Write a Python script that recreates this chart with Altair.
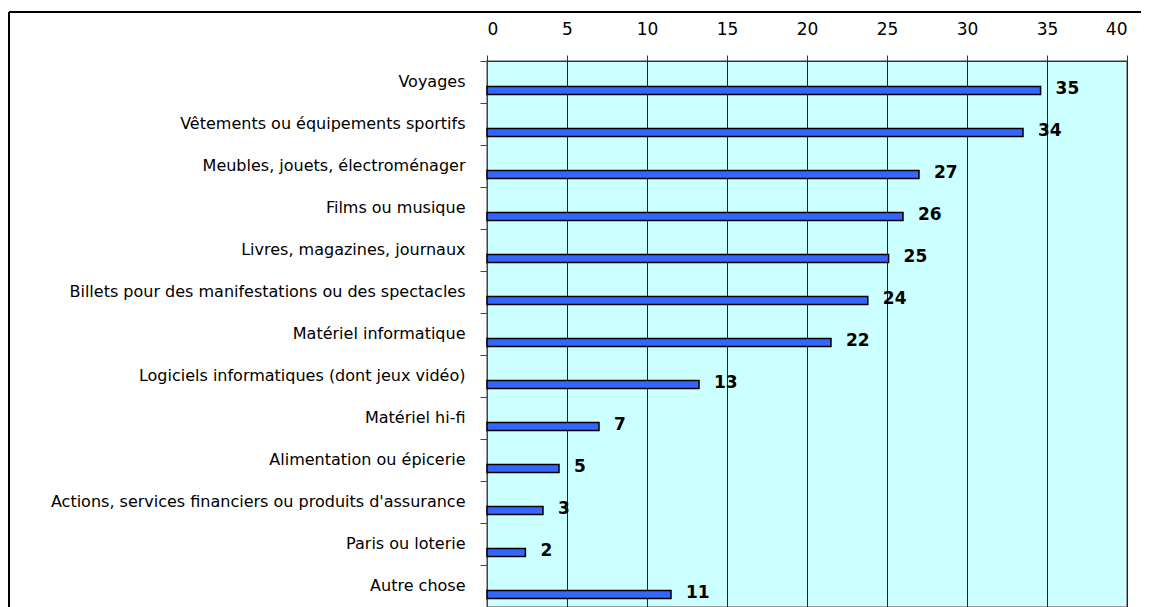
import altair as alt
import pandas as pd

categories = [
    "Voyages",
    "Vêtements ou équipements sportifs",
    "Meubles, jouets, électroménager",
    "Films ou musique",
    "Livres, magazines, journaux",
    "Billets pour des manifestations ou des spectacles",
    "Matériel informatique",
    "Logiciels informatiques (dont jeux vidéo)",
    "Matériel hi-fi",
    "Alimentation ou épicerie",
    "Actions, services financiers ou produits d'assurance",
    "Paris ou loterie",
    "Autre chose",
]
values = [34.6, 33.5, 27.0, 26.0, 25.1, 23.8, 21.5, 13.25, 7.0, 4.5, 3.5, 2.4, 11.5]
value_labels = ["35", "34", "27", "26", "25", "24", "22", "13", "7", "5", "3", "2", "11"]
x_ticks = [0, 5, 10, 15, 20, 25, 30, 35, 40]

df = pd.DataFrame({"cat": categories, "val": values, "lab": value_labels})

FONT = "DejaVu Sans"

y_enc = alt.Y(
    "cat:N",
    sort=categories,
    title=None,
    scale=alt.Scale(paddingInner=0, paddingOuter=0),
    axis=alt.Axis(
        labelFont=FONT,
        labelFontSize=16,
        labelColor="black",
        labelLimit=600,
        labelPadding=15,
        tickSize=7,
        tickBand="extent",
        tickColor="#444444",
        domainColor="#444444",
        labelOffset=-1,
    ),
)

x_enc = alt.X(
    "val:Q",
    title=None,
    scale=alt.Scale(domain=[0, 40], nice=False),
    axis=alt.Axis(
        orient="top",
        values=x_ticks,
        labelFont=FONT,
        labelFontSize=17,
        labelColor="black",
        labelPadding=17,
        tickSize=6,
        tickColor="#333333",
        domainColor="#333333",
        grid=True,
        gridColor="#222222",
        gridWidth=1,
    ),
)

bars = alt.Chart(df).mark_bar(
    height=8, yOffset=8.5, color="#3366FF", stroke="black", strokeWidth=1.5
).encode(x=x_enc, y=y_enc)

texts = alt.Chart(df).mark_text(
    align="left", baseline="middle", dx=15, yOffset=6.5,
    font=FONT, fontSize=17, fontWeight="bold", color="black"
).encode(x="val:Q", y=alt.Y("cat:N", sort=categories), text="lab:N")

frame_top = alt.Chart(df).mark_rule(
    stroke="black", strokeWidth=1.5, clip=False
).encode(x=alt.value(-478), x2=alt.value(800), y=alt.value(-49))

frame_left = alt.Chart(df).mark_rule(
    stroke="black", strokeWidth=1.5, clip=False
).encode(x=alt.value(-478), y=alt.value(-49), y2=alt.value(700))

chart = (
    alt.layer(bars, texts, frame_top, frame_left)
    .properties(
        width=640,
        height=546,
        padding={"left": 479, "top": 53, "right": 14, "bottom": 0},
        autosize=alt.AutoSizeParams(type="none"),
        background="white",
    )
    .configure_view(fill="#CCFFFF", stroke="#808080", strokeWidth=1.5)
)

chart.save("out.html", embed_options={"renderer": "svg", "actions": False})
